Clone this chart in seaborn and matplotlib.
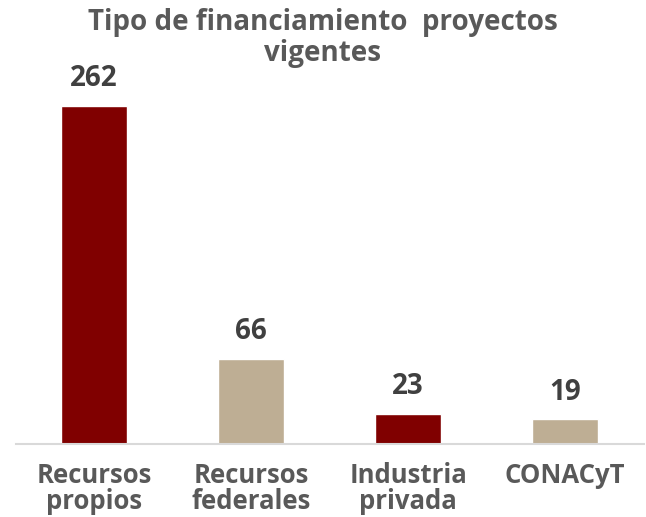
import matplotlib
matplotlib.use("Agg")
import matplotlib.pyplot as plt
import seaborn as sns
import pandas as pd

categories = ["Recursos\npropios", "Recursos\nfederales", "Industria\nprivada", "CONACyT"]
values = [262, 66, 23, 19]
colors = ["#800000", "#BEAE94", "#800000", "#BEAE94"]
title = "Tipo de financiamiento  proyectos\nvigentes"

sns.set_theme(style="white")
plt.rcParams["font.family"] = ["Open Sans", "DejaVu Sans"]

df = pd.DataFrame({"cat": categories, "val": values})

fig = plt.figure(figsize=(6.46, 5.17), dpi=100)
ax = fig.add_axes([15.5 / 646, 73 / 517, 628 / 646, 384 / 517])

sns.barplot(data=df, x="cat", y="val", hue="cat", palette=colors,
            legend=False, width=0.425, ax=ax, saturation=1)

ax.set_ylim(0, 297.7)
ax.set_xlim(-0.5, 3.5)
ax.set_xlabel("")
ax.set_ylabel("")
ax.set_yticks([])
for side in ["top", "right", "left"]:
    ax.spines[side].set_visible(False)
ax.spines["bottom"].set_color("#D9D9D9")
ax.spines["bottom"].set_linewidth(1.5)
ax.tick_params(axis="x", length=0, pad=13)
for lbl in ax.get_xticklabels():
    lbl.set_fontsize(18.5)
    lbl.set_fontweight("bold")
    lbl.set_color("#595959")
    lbl.set_linespacing(0.95)

# value labels above each bar
for i, v in enumerate(values):
    ax.text(i, v + 10, str(v), ha="center", va="bottom",
            fontsize=20, fontweight="bold", color="#404040")

fig.text(0.5, 1 - 38 / 517, title, ha="center", va="center",
         fontsize=20, fontweight="bold", color="#595959", linespacing=1.1)

fig.savefig("out.png", dpi=100)
